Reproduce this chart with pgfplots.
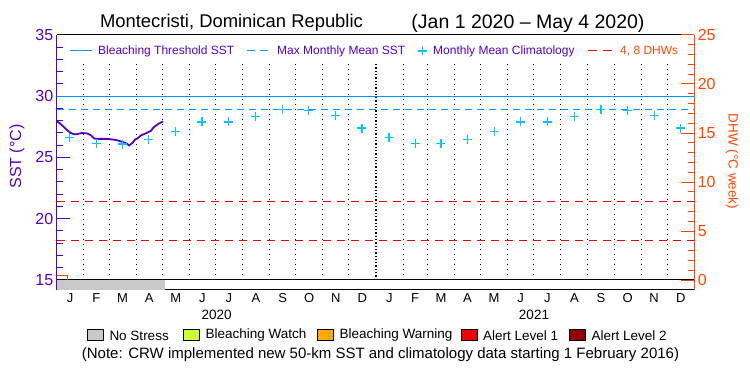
\documentclass[border=0pt]{standalone}
\usepackage{fontspec}
\setmainfont{Liberation Sans}
\usepackage{pgfplots}
\pgfplotsset{compat=1.18}
\definecolor{sstpur}{RGB}{85,0,200}
\definecolor{thr}{RGB}{0,150,255}
\definecolor{clim}{RGB}{0,195,255}
\definecolor{dhwred}{RGB}{230,0,0}
\definecolor{dhwax}{RGB}{255,70,0}
\definecolor{nostress}{RGB}{200,200,200}
\definecolor{watch}{RGB}{204,255,51}
\definecolor{warn}{RGB}{255,170,0}
\definecolor{alone}{RGB}{240,0,0}
\definecolor{altwo}{RGB}{150,0,0}
\newcommand{\fs}[1]{\fontsize{#1}{#1}\selectfont}
\begin{document}
\begin{tikzpicture}[x=1pt,y=1pt]
\useasboundingbox (0,0) rectangle (750,375);
% ---------- SST axis ----------
\begin{axis}[at={(56.7pt,85pt)}, anchor=south west, scale only axis,
  width=637.6pt, height=255pt,
  xmin=0, xmax=731, ymin=14.18, ymax=35,
  axis x line*=bottom, axis y line*=left,
  x axis line style={black,-,line width=1pt},
  y axis line style={sstpur,-,line width=1pt},
  xtick={15.5,45.5,75.5,106,136.5,167,197.5,228.5,259,289.5,320,350.5,381.5,411,440.5,471,501.5,532,562.5,593.5,624,654.5,685,715.5},
  xticklabels={J,F,M,A,M,J,J,A,S,O,N,D,J,F,M,A,M,J,J,A,S,O,N,D},
  xtick style={draw=none},
  xticklabel style={font=\fs{13}, black},
  ytick={15,20,25,30,35}, minor y tick num=4,
  tick align=inside, major tick length=13pt, minor tick length=6.5pt,
  ytick style={sstpur, line width=1pt},
  yticklabel style={sstpur, font=\fs{16}},
  /pgf/number format/assume math mode=true,
]
% frame lines
\draw[black, line width=1pt] (axis cs:0,35) -- (axis cs:731,35);
\draw[black, line width=1pt] (axis cs:0,15) -- (axis cs:731,15);
% month boundaries
\pgfplotsinvokeforeach{31,60,91,121,152,182,213,244,274,305,335,397,425,456,486,517,547,578,609,639,670,700}{
  \draw[black, line width=0.9pt, dash pattern=on 1pt off 4pt] (axis cs:#1,15) -- (axis cs:#1,32.69);
}
\draw[black, line width=1.3pt, dash pattern=on 1.3pt off 2pt] (axis cs:366,15) -- (axis cs:366,32.69);
% stress bar
\addplot[fill=nostress, draw=none] coordinates {(0,14.18) (124.5,14.18) (124.5,15) (0,15)} -- cycle;
% threshold and MMM
\addplot[thr, line width=1pt] coordinates {(0,29.95) (731,29.95)};
\addplot[thr, line width=1pt, dash pattern=on 7pt off 5pt] coordinates {(0,28.95) (731,28.95)};
% climatology
\addplot[clim, only marks, mark=+, mark size=4.5pt, line width=1.2pt, mark options={solid, draw=clim, line width=1.2pt}] coordinates {
(15,26.6)(45.5,26.15)(75,26.1)(105.5,26.45)(136,27.1)(166.5,27.9)(197,27.9)(228,28.37)(258.5,28.9)(289,28.86)(319.5,28.45)(350,27.4)
(381,26.63)(411.5,26.15)(440.5,26.15)(471,26.47)(501.5,27.1)(532,27.9)(562.5,27.9)(593.5,28.35)(624,28.94)(654.5,28.86)(685,28.43)(715.5,27.4)};
% SST
\addplot[sstpur, line width=1.8pt] coordinates {
(0,27.96)(4,27.77)(8,27.5)(12,27.23)(16,27.0)(20,26.9)(23,26.9)(29,27.0)(35,26.96)(39,26.82)(43,26.55)(48,26.52)(54,26.52)(58,26.52)(64,26.47)(69,26.41)(75,26.28)(80,26.15)(83,25.98)(87,26.2)(90,26.47)(93,26.58)(97,26.82)(102,26.96)(108,27.17)(111,27.45)(116,27.72)(122,27.95)};
\end{axis}
% ---------- DHW axis ----------
\begin{axis}[at={(56.7pt,85pt)}, anchor=south west, scale only axis,
  width=637.6pt, height=255pt,
  xmin=0, xmax=731, ymin=-1.02, ymax=25,
  axis x line=none, axis y line*=right,
  y axis line style={dhwax,-,line width=1pt},
  ytick={0,5,...,25}, minor y tick num=4,
  tick align=inside, major tick length=13pt, minor tick length=6.5pt,
  ytick style={dhwax, line width=1pt},
  yticklabel style={dhwax, font=\fs{16}},
  /pgf/number format/assume math mode=true,
]
\addplot[dhwred, line width=1pt, dash pattern=on 8pt off 6pt] coordinates {(0,4) (731,4)};
\addplot[dhwred, line width=1pt, dash pattern=on 8pt off 6pt] coordinates {(0,8) (731,8)};
\addplot[dhwax, line width=1pt] coordinates {(0,0.45) (12,0.45) (12,0)};
\end{axis}
% ---------- texts ----------
\node[font=\fs{18.4}] at (231.5,352) {Montecristi, Dominican Republic};
\node[font=\fs{19.5}] at (528,352) {(Jan 1 2020 -- May 4 2020)};
\node[rotate=90, sstpur, font=\fs{16}] at (17,218.5) {SST (°C)};
\node[rotate=-90, dhwax, font=\fs{13.5}] at (732,213.5) {DHW (°C week)};
% top legend
\draw[thr, line width=1pt] (70,324) -- (92,324);
\node[anchor=west, sstpur, font=\fs{12}, inner sep=0pt] at (98,324) {Bleaching Threshold SST};
\draw[thr, line width=1pt] (247,324) -- (255,324) (260,324) -- (268,324);
\node[anchor=west, sstpur, font=\fs{12}, inner sep=0pt] at (277,324) {Max Monthly Mean SST};
\draw[clim, line width=1.3pt] (418.2,324) -- (427.2,324) (422.7,319.5) -- (422.7,328.5);
\node[anchor=west, sstpur, font=\fs{12}, inner sep=0pt] at (433,324) {Monthly Mean Climatology};
\draw[dhwred, line width=1pt] (588,324) -- (597,324) (603,324) -- (612,324);
\node[anchor=west, dhwax, font=\fs{12}, inner sep=0pt] at (620,324) {4, 8 DHWs};
% year labels
\node[font=\fs{13.5}] at (216.7,60) {2020};
\node[font=\fs{13.5}] at (534,60) {2021};
% bottom legend
\foreach \xa/\col/\txt in {87.3/nostress/No Stress, 183.3/watch/Bleaching Watch, 317.3/warn/Bleaching Warning, 461/alone/Alert Level 1, 569.3/altwo/Alert Level 2}{
  \filldraw[fill=\col, draw=black, line width=0.8pt] (\xa,34.3) rectangle (\xa+16,45.7);
  \node[anchor=west, font=\fs{13.5}, inner sep=0pt] at (\xa+22,39.5) {\txt};
}
\node[font=\fs{15}] at (380.5,20) {(Note: CRW implemented new 50-km SST and climatology data starting 1 February 2016)};
\end{tikzpicture}
\end{document}
